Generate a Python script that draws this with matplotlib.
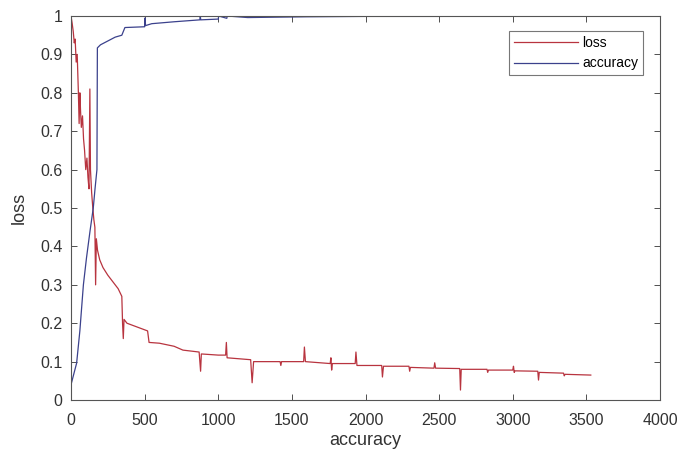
import matplotlib
matplotlib.use("Agg")
import matplotlib.pyplot as plt

plt.rcParams["font.family"] = ["Liberation Sans", "DejaVu Sans"]

# loss curve (red)
loss_x = [0, 8, 15, 22, 28, 35, 42, 50, 55, 60, 65, 70, 78, 85, 92, 100, 108,
          115, 122, 128, 132, 140, 148, 155, 162, 167, 172, 180, 195, 217, 250,
          290, 320, 345, 350, 355, 360, 380, 450, 520, 530, 600, 700, 760, 870,
          880, 885, 1000, 1050, 1055, 1060, 1220, 1230, 1240, 1420, 1425, 1430,
          1580, 1585, 1592, 1760, 1765, 1770, 1775, 1930, 1935, 1942, 2110, 2115,
          2122, 2295, 2300, 2305, 2465, 2470, 2476, 2640, 2645, 2650, 2825, 2830,
          2835, 3000, 3005, 3010, 3015, 3170, 3175, 3180, 3345, 3350, 3355, 3530]
loss_y = [1.0, 0.98, 0.96, 0.93, 0.94, 0.88, 0.90, 0.80, 0.72, 0.80, 0.75, 0.71,
          0.74, 0.68, 0.65, 0.60, 0.63, 0.58, 0.55, 0.81, 0.60, 0.54, 0.50, 0.47,
          0.45, 0.30, 0.42, 0.39, 0.365, 0.345, 0.325, 0.305, 0.29, 0.27, 0.20,
          0.16, 0.21, 0.20, 0.19, 0.18, 0.15, 0.148, 0.14, 0.13, 0.125, 0.075,
          0.12, 0.117, 0.117, 0.15, 0.11, 0.105, 0.045, 0.10, 0.10, 0.09, 0.10,
          0.10, 0.138, 0.10, 0.095, 0.11, 0.078, 0.095, 0.095, 0.125, 0.09, 0.09,
          0.06, 0.088, 0.088, 0.075, 0.085, 0.083, 0.097, 0.083, 0.082, 0.026,
          0.08, 0.08, 0.072, 0.078, 0.078, 0.088, 0.072, 0.076, 0.075, 0.052,
          0.072, 0.07, 0.063, 0.067, 0.065]

# accuracy curve (blue)
acc_x = [0, 38, 60, 84, 105, 129, 151, 163, 176, 179, 200, 250, 300, 345, 366,
         500, 503, 506, 548, 700, 875, 878, 881, 1000, 1003, 1058, 1061, 1200,
         1600, 2000, 2500, 3000, 3520]
acc_y = [0.04, 0.096, 0.18, 0.30, 0.37, 0.44, 0.50, 0.55, 0.60, 0.917, 0.925,
         0.935, 0.945, 0.95, 0.97, 0.972, 0.995, 0.975, 0.98, 0.985, 0.99, 1.0,
         0.99, 0.992, 1.0, 0.994, 1.0, 0.996, 0.998, 0.999, 0.999, 1.0, 1.0]

x_ticks = [0, 500, 1000, 1500, 2000, 2500, 3000, 3500, 4000]
y_ticks = [0, 0.1, 0.2, 0.3, 0.4, 0.5, 0.6, 0.7, 0.8, 0.9, 1]
y_labels = ["0", "0.1", "0.2", "0.3", "0.4", "0.5", "0.6", "0.7", "0.8", "0.9", "1"]

fig = plt.figure(figsize=(6.79, 4.51), dpi=100)
ax = fig.add_axes([0.1046, 0.113, 0.8674, 0.8515])

ax.plot(loss_x, loss_y, color="#b8343f", linewidth=0.9, label="loss")
ax.plot(acc_x, acc_y, color="#3b418c", linewidth=0.9, label="accuracy")

ax.set_xlim(0, 4000)
ax.set_ylim(0, 1)
ax.set_xticks(x_ticks)
ax.set_yticks(y_ticks)
ax.set_yticklabels(y_labels)
ax.tick_params(direction="in", top=True, right=True, length=4, width=0.6,
               labelsize=11.5, colors="#333333", pad=6)
ax.tick_params(axis="x", pad=9)
for sp in ax.spines.values():
    sp.set_color("#555555")
    sp.set_linewidth(0.8)

ax.set_xlabel("accuracy", fontsize=13, color="#333333", labelpad=3)
ax.set_ylabel("loss", fontsize=13, color="#333333", labelpad=9)

leg = ax.legend(loc="upper right", bbox_to_anchor=(0.971, 0.96), fontsize=10,
                frameon=True, fancybox=False, edgecolor="#555555",
                handlelength=4.6, borderpad=0.35, labelspacing=0.45,
                handletextpad=0.3, borderaxespad=0)
leg.get_frame().set_linewidth(0.8)

fig.savefig("out.png", dpi=100)
